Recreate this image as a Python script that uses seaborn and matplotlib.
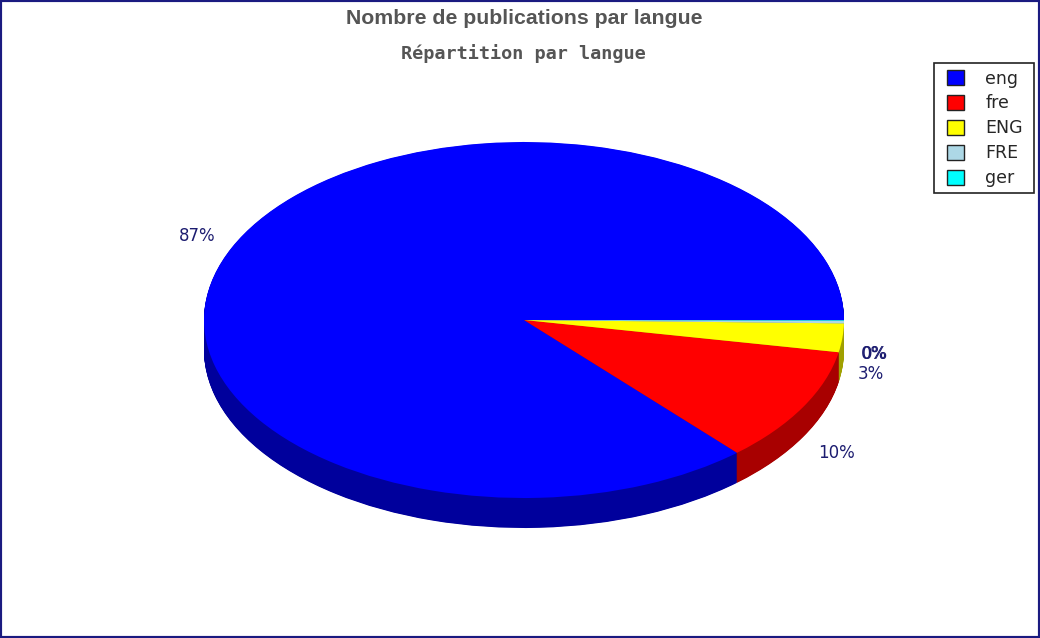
import matplotlib
matplotlib.use('Agg')
import matplotlib.pyplot as plt
from matplotlib.patches import Rectangle
import seaborn as sns

languages = ['eng', 'fre', 'ENG', 'FRE', 'ger']
shares = [86.6, 10.5, 2.6, 0.25, 0.05]
percent_labels = ['87%', '10%', '3%', '0%', '0%']
colors = ['#0000ff', '#ff0000', '#ffff00', '#add8e6', '#00ffff']
side_colors = ['#00009c', '#a80000', '#a0a000', '#6d8890', '#00a0a0']

W, H = 1040, 638
CX, CY, RX, RY = 524, 320, 320, 178
DEPTH = 30

sns.set_theme(style='white')
fig = plt.figure(figsize=(W / 100, H / 100), dpi=100, facecolor='white')
ax = fig.add_axes([0, 0, 1, 1])

# side of the disc first, stacked downwards, top face last
for step in range(DEPTH * 2, 0, -1):
    ax.pie(shares, colors=side_colors, startangle=0, center=(0, -step / 2 / RY),
           wedgeprops={'linewidth': 0})
wedges, _ = ax.pie(shares, colors=colors, startangle=0, center=(0, 0),
                   wedgeprops={'linewidth': 0})

ax.set_aspect('auto')
ax.set_xlim(-CX / RX, (W - CX) / RX)
ax.set_ylim((CY - H) / RY, CY / RY)


def px_text(x, y, s, **kw):
    fig.text(x / W, 1 - y / H, s, ha='center', va='center', **kw)


px_text(524, 18, 'Nombre de publications par langue', family='Liberation Sans',
        weight='bold', fontsize=15.3, color='#555555')
px_text(523, 54, 'Répartition par langue', family='DejaVu Sans Mono',
        weight='bold', fontsize=13.3, color='#555555')

label_pos = [(197, 236), (836, 453), (871, 374), (874, 354), (875, 354)]
for (x, y), s in zip(label_pos, percent_labels):
    px_text(x, y, s, fontsize=12, color='#1c1c70')

# frame drawn apart from the legend, its padding is wider than it is tall
fig.add_artist(Rectangle((934 / W, 1 - 193 / H), 100 / W, 130 / H, transform=fig.transFigure,
                         facecolor='white', edgecolor='#222222', linewidth=1.2))
leg = fig.legend(wedges, languages, loc='upper left',
                 bbox_to_anchor=(947 / W, 1 - 69.5 / H), bbox_transform=fig.transFigure,
                 borderaxespad=0, borderpad=0, fontsize=12.5, frameon=False,
                 handlelength=1, handleheight=1, handletextpad=1.2, labelspacing=0.4)
for patch in leg.get_patches():
    patch.set_edgecolor('#222222')
    patch.set_linewidth(1)

fig.add_artist(Rectangle((0, 0), 1, 1, transform=fig.transFigure, fill=False,
                         edgecolor='#1a1a80', linewidth=3))

fig.savefig('out.png', dpi=100)
